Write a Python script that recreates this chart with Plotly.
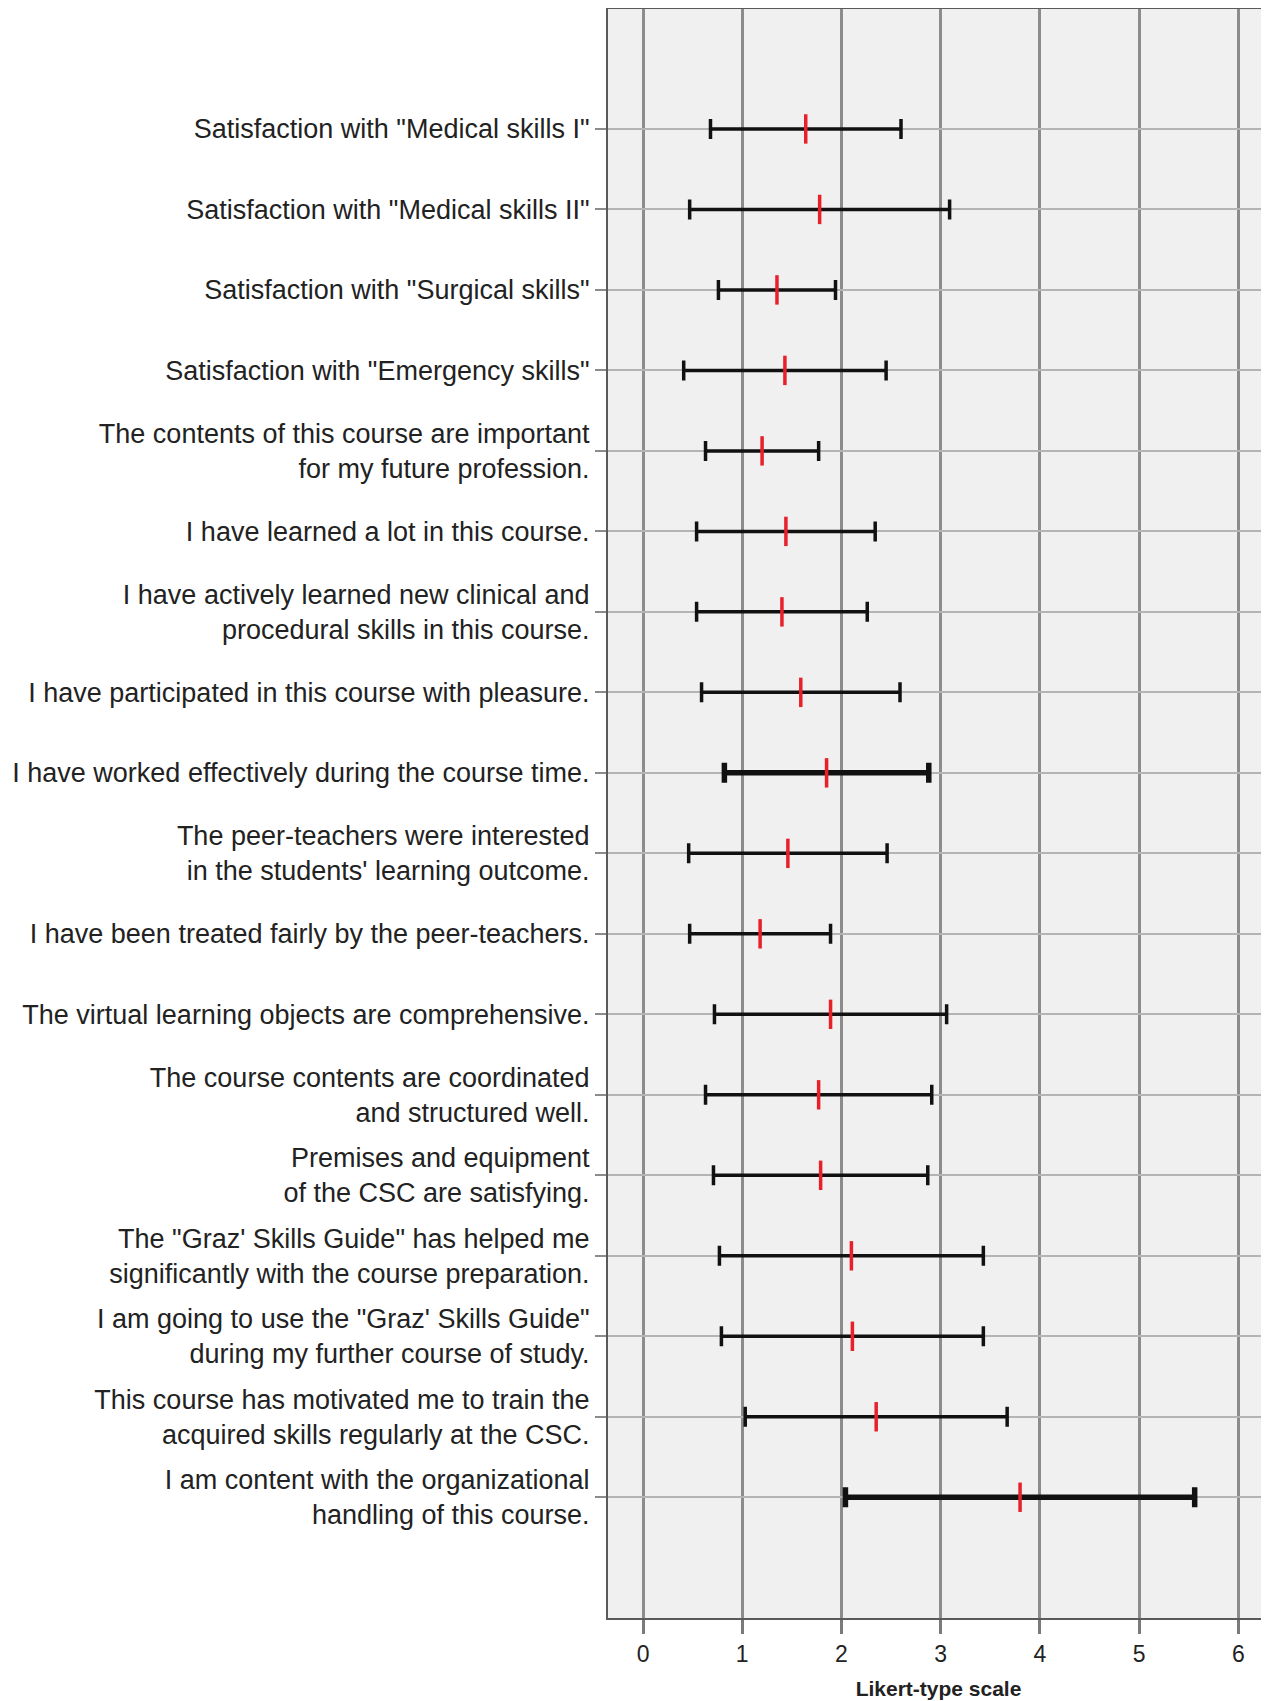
import plotly.graph_objects as go

labels = [
    'Satisfaction with "Medical skills I"',
    'Satisfaction with "Medical skills II"',
    'Satisfaction with "Surgical skills"',
    'Satisfaction with "Emergency skills"',
    'The contents of this course are important<br>for my future profession.',
    'I have learned a lot in this course.',
    'I have actively learned new clinical and<br>procedural skills in this course.',
    'I have participated in this course with pleasure.',
    'I have worked effectively during the course time.',
    'The peer-teachers were interested<br>in the students\' learning outcome.',
    'I have been treated fairly by the peer-teachers.',
    'The virtual learning objects are comprehensive.',
    'The course contents are coordinated<br>and structured well.',
    'Premises and equipment<br>of the CSC are satisfying.',
    'The "Graz\' Skills Guide" has helped me<br>significantly with the course preparation.',
    'I am going to use the "Graz\' Skills Guide"<br>during my further course of study.',
    'This course has motivated me to train the<br>acquired skills regularly at the CSC.',
    'I am content with the organizational<br>handling of this course.',
]
means = [1.64, 1.78, 1.35, 1.43, 1.20, 1.44, 1.40, 1.59, 1.85,
         1.46, 1.18, 1.89, 1.77, 1.79, 2.10, 2.11, 2.35, 3.80]
sds = [0.96, 1.31, 0.59, 1.02, 0.57, 0.90, 0.86, 1.00, 1.03,
       1.00, 0.71, 1.17, 1.14, 1.08, 1.33, 1.32, 1.32, 1.76]
x_ticks = [0, 1, 2, 3, 4, 5, 6]
x_title = "Likert-type scale"

rows = list(range(1, len(labels) + 1))
heavy = {9, 18}  # rows drawn with a heavier bar in the original

FONT = "Liberation Sans, Arial, sans-serif"

fig = go.Figure()
for group, thick in ((False, 3.5), (True, 5.5)):
    ys = [r for r in rows if (r in heavy) == group]
    xs = [means[r - 1] for r in ys]
    es = [sds[r - 1] for r in ys]
    fig.add_trace(go.Scatter(
        x=xs, y=ys, mode="markers",
        marker=dict(symbol="line-ns", size=21, color="#e8202a",
                    line=dict(color="#e8202a", width=3.5)),
        error_x=dict(type="data", array=es, symmetric=True,
                     color="#111111", thickness=thick, width=10),
        showlegend=False, hoverinfo="skip",
    ))

# the page body has an 8px default margin; sizes compensate for it
fig.update_layout(
    width=1261, height=1693,
    margin=dict(l=600, r=0, t=1, b=83),
    paper_bgcolor="white", plot_bgcolor="#f0f0f0",
    font=dict(family=FONT, color="#222222"),
)
fig.update_xaxes(
    range=[-0.353, 6.309], tickvals=x_ticks,
    ticktext=[str(v) for v in x_ticks],
    showgrid=True, gridcolor="#8c8c8c", gridwidth=2.5,
    zeroline=False,
    ticks="outside", ticklen=14, tickwidth=2.5, tickcolor="#7a7a7a",
    tickfont=dict(size=23, family=FONT, color="#222222"),
    showline=True, linecolor="#5a5a5a", linewidth=2, mirror=True,
    title=dict(text="<b>" + x_title + "</b>", standoff=16,
               font=dict(size=21, family=FONT, color="#222222")),
)
fig.update_yaxes(
    range=[19.5, -0.49], tickvals=rows, ticktext=labels,
    showgrid=True, gridcolor="#b4b4b4", gridwidth=1.5,
    zeroline=False,
    ticks="outside", ticklen=11, tickwidth=1.5, tickcolor="#8c8c8c",
    tickfont=dict(size=27, family=FONT, color="#222222"),
    showline=True, linecolor="#5a5a5a", linewidth=2, mirror=False,
)

fig.write_html("out.html")
